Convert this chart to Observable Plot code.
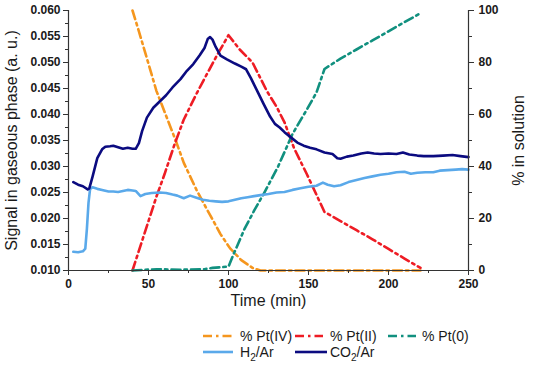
<!DOCTYPE html>
<html><head><meta charset="utf-8">
<script src="https://cdn.jsdelivr.net/npm/d3@7"></script>
<script src="https://cdn.jsdelivr.net/npm/@observablehq/plot@0.6"></script>
<style>
body{margin:0;background:#fff;font-family:Arial,"Liberation Sans",sans-serif;}
#wrap{position:relative;width:539px;height:368px;overflow:hidden;}
#legend{position:absolute;left:0;top:318px;}
</style></head><body><div id="wrap"></div>
<script>
// ---- tick values ----
const xTicks = [0, 50, 100, 150, 200, 250];
const xMinor = [25, 75, 125, 175, 225];
const leftTicks = [0.010, 0.015, 0.020, 0.025, 0.030, 0.035, 0.040, 0.045, 0.050, 0.055, 0.060];
const leftMinor = [0.0125, 0.0175, 0.0225, 0.0275, 0.0325, 0.0375, 0.0425, 0.0475, 0.0525, 0.0575];
const rightTicks = [0, 20, 40, 60, 80, 100];
const rightMinor = [10, 30, 50, 70, 90];

// ---- % in solution (right axis) ----
const ptIVTime = [40, 44, 50, 55, 61, 67, 72, 80, 87, 95, 101, 108, 115, 120, 130, 140, 150, 160, 170, 180, 190, 200, 210, 220];
const ptIVPct  = [100, 92, 79.5, 69, 59.5, 50, 41.5, 31, 23, 14, 8.5, 4, 1, 0, 0, 0, 0, 0, 0, 0, 0, 0, 0, 0];

const ptIITime = [40, 50, 55, 60, 66, 72, 80, 86, 93, 100, 107, 115, 124, 130, 135, 141, 149, 160, 170, 180, 190, 200, 210, 220];
const ptIIPct  = [0, 19, 28.5, 37, 48, 58, 68, 75, 83, 90.5, 85, 80, 69, 63, 57, 47, 37, 22.5, 19, 15.5, 12, 8.3, 4.6, 1];

const pt0Time = [40, 55, 70, 85, 90, 100, 103, 110, 116, 122, 131, 140, 150, 155, 160, 170, 180, 190, 200, 210, 220];
const pt0Pct  = [0, 0.5, 0.3, 0.5, 1, 1.5, 6, 16, 23, 29.5, 40, 52.5, 63, 68.5, 77.5, 81.5, 85, 88.5, 92, 95.5, 99];

// ---- signal in gaseous phase (left axis) ----
const h2Time = [3, 6, 9, 10.5, 11.5, 12.5, 13.5, 15, 18, 21, 25, 28, 31, 34, 37, 40, 42, 45, 48, 52, 57, 61, 65, 68, 72, 76, 80, 84, 88, 92, 96, 100, 104, 108, 112, 116, 120, 125, 130, 135, 140, 145, 150, 155, 159, 162, 166, 170, 175, 180, 185, 190, 195, 200, 205, 210, 214, 218, 223, 228, 232, 237, 242, 246, 250];
const h2Val  = [0.0136, 0.0135, 0.0137, 0.0142, 0.0180, 0.0230, 0.0257, 0.0260, 0.0257, 0.0255, 0.0252, 0.0252, 0.0251, 0.0253, 0.0255, 0.0254, 0.0253, 0.0243, 0.0247, 0.0249, 0.0250, 0.0249, 0.0246, 0.0244, 0.0239, 0.0244, 0.0240, 0.0236, 0.0234, 0.0233, 0.0232, 0.0233, 0.0236, 0.0239, 0.0241, 0.0243, 0.0245, 0.0247, 0.0250, 0.0251, 0.0255, 0.0258, 0.0261, 0.0263, 0.0269, 0.0265, 0.0262, 0.0264, 0.0270, 0.0274, 0.0278, 0.0281, 0.0284, 0.0286, 0.0289, 0.0290, 0.0286, 0.0288, 0.0289, 0.0289, 0.0292, 0.0293, 0.0294, 0.0295, 0.0294];

const co2Time = [3, 6, 9, 12, 13, 15, 18, 21, 23, 26, 28, 31, 34, 37, 40, 42, 44, 46, 49, 53, 57, 61, 65, 70, 74, 78, 82, 85, 87, 88.5, 90, 92, 95, 99, 104, 108, 111, 114, 118, 122, 126, 129, 132, 135, 139, 143, 147, 151, 155, 160, 165, 168, 170, 174, 178, 183, 187, 191, 195, 200, 205, 209, 213, 218, 222, 228, 234, 240, 245, 250];
const co2Val  = [0.0270, 0.0265, 0.0262, 0.0256, 0.0258, 0.0280, 0.0316, 0.0333, 0.0338, 0.0339, 0.0340, 0.0337, 0.0334, 0.0336, 0.0334, 0.0334, 0.0345, 0.0368, 0.0394, 0.0413, 0.0425, 0.0437, 0.0452, 0.0468, 0.0484, 0.0497, 0.0514, 0.0528, 0.0545, 0.0549, 0.0544, 0.0530, 0.0513, 0.0506, 0.0498, 0.0492, 0.0487, 0.0470, 0.0445, 0.0420, 0.0396, 0.0382, 0.0375, 0.0366, 0.0356, 0.0346, 0.0340, 0.0336, 0.0333, 0.0327, 0.0324, 0.0316, 0.0315, 0.0319, 0.0321, 0.0325, 0.0327, 0.0325, 0.0324, 0.0325, 0.0324, 0.0327, 0.0323, 0.0321, 0.0320, 0.0320, 0.0321, 0.0322, 0.0320, 0.0318];

const seriesNames = ["% Pt(IV)", "% Pt(II)", "% Pt(0)", "H2/Ar", "CO2/Ar"];

// ---- styling ----
const C = {iv: "#f5961e", ii: "#ee1c24", z: "#11907f", h2: "#5aa9ea", co2: "#0b0b80"};
const DASH = "9,4,2.5,4";
const FONT = "Arial, 'Liberation Sans', sans-serif";

// % -> left-axis units (0% at 0.010, 100% at 0.060)
const toY = p => 0.010 + p * 0.0005;
const zipP = (t, p) => t.map((d, i) => ({t: d, v: toY(p[i])}));
const zipV = (t, v) => t.map((d, i) => ({t: d, v: v[i]}));

const dIV = zipP(ptIVTime, ptIVPct);
const dII = zipP(ptIITime, ptIIPct);
const d0 = zipP(pt0Time, pt0Pct);
const dH2 = zipV(h2Time, h2Val);
const dCO2 = zipV(co2Time, co2Val);

const axisColor = "#333";
const plot = Plot.plot({
  width: 539, height: 318,
  marginLeft: 68, marginRight: 71, marginTop: 10, marginBottom: 48,
  style: {fontFamily: FONT, fontSize: "12px", color: "#1a1a1a", background: "#fff", overflow: "visible"},
  x: {domain: [0, 250]},
  y: {domain: [0.010, 0.060]},
  marks: [
    // series (right axis)
    Plot.line(dIV, {x: "t", y: "v", stroke: C.iv, strokeWidth: 2.6, strokeDasharray: DASH}),
    Plot.line(dII, {x: "t", y: "v", stroke: C.ii, strokeWidth: 2.6, strokeDasharray: DASH}),
    Plot.line(d0, {x: "t", y: "v", stroke: C.z, strokeWidth: 2.6, strokeDasharray: DASH}),
    // series (left axis)
    Plot.line(dH2, {x: "t", y: "v", stroke: C.h2, strokeWidth: 2.6}),
    Plot.line(dCO2, {x: "t", y: "v", stroke: C.co2, strokeWidth: 2.6}),
    // axes
    Plot.axisX({ticks: xTicks, tickSize: 5, tickPadding: 4, tickFormat: d => String(d), label: null, fontWeight: "bold", stroke: axisColor}),
    Plot.axisX({ticks: xMinor, tickSize: 3, tickFormat: () => "", label: null, stroke: axisColor}),
    Plot.axisY({ticks: leftTicks, tickSize: 5, tickPadding: 3, tickFormat: d3.format(".3f"), label: null, fontWeight: "bold", stroke: axisColor}),
    Plot.axisY({ticks: leftMinor, tickSize: 3, tickFormat: () => "", label: null, stroke: axisColor}),
    Plot.axisY({anchor: "right", ticks: rightTicks.map(toY), tickSize: 5, tickPadding: 5,
      tickFormat: v => String(Math.round((v - 0.010) / 0.0005)), label: null, fontWeight: "bold", stroke: axisColor}),
    Plot.axisY({anchor: "right", ticks: rightMinor.map(toY), tickSize: 3, tickFormat: () => "", label: null, stroke: axisColor}),
    Plot.ruleX([0], {stroke: axisColor, strokeWidth: 1.2}),
    Plot.ruleX([250], {stroke: axisColor, strokeWidth: 1.2}),
    Plot.ruleY([0.010], {stroke: axisColor, strokeWidth: 1.2}),
    // titles
    Plot.text(["Time (min)"], {frameAnchor: "bottom", dy: 35, fontSize: 16, fill: "#1a1a1a"}),
    Plot.text(["Signal in gaseous phase (a. u.)"], {frameAnchor: "left", textAnchor: "middle", rotate: -90, dx: -57, fontSize: 16, fill: "#1a1a1a"}),
    Plot.text(["% in solution"], {frameAnchor: "right", textAnchor: "middle", rotate: -90, dx: 50, fontSize: 16, fill: "#1a1a1a"})
  ]
});
document.getElementById("wrap").appendChild(plot);

// ---- legend ----
const legendItems = [
  {name: seriesNames[0], color: C.iv, dash: DASH, x0: 203, x1: 233, tx: 240, y: 18},
  {name: seriesNames[1], color: C.ii, dash: DASH, x0: 295, x1: 323, tx: 330, y: 18},
  {name: seriesNames[2], color: C.z, dash: DASH, x0: 388, x1: 416, tx: 422, y: 18},
  {name: seriesNames[3], color: C.h2, dash: null, x0: 203, x1: 233, tx: 240, y: 34, sub: true},
  {name: seriesNames[4], color: C.co2, dash: null, x0: 295, x1: 327, tx: 330, y: 34, sub: true}
];
const lg = d3.select("#wrap").append("svg").attr("id", "legend").attr("width", 539).attr("height", 50)
  .style("font-family", FONT);
for (const it of legendItems) {
  lg.append("line").attr("x1", it.x0).attr("x2", it.x1).attr("y1", it.y).attr("y2", it.y)
    .attr("stroke", it.color).attr("stroke-width", 2.6).attr("stroke-dasharray", it.dash || null);
  const t = lg.append("text").attr("x", it.tx).attr("y", it.y).attr("dy", "0.35em")
    .attr("font-size", 14).attr("fill", "#1a1a1a");
  if (it.sub) {
    const m = it.name.match(/^(\D+)(\d)(.*)$/);
    t.append("tspan").text(m[1]);
    t.append("tspan").attr("font-size", 10).attr("dy", 4).text(m[2]);
    t.append("tspan").attr("dy", -4).text(m[3]);
  } else {
    t.text(it.name);
  }
}
</script>
</body></html>
